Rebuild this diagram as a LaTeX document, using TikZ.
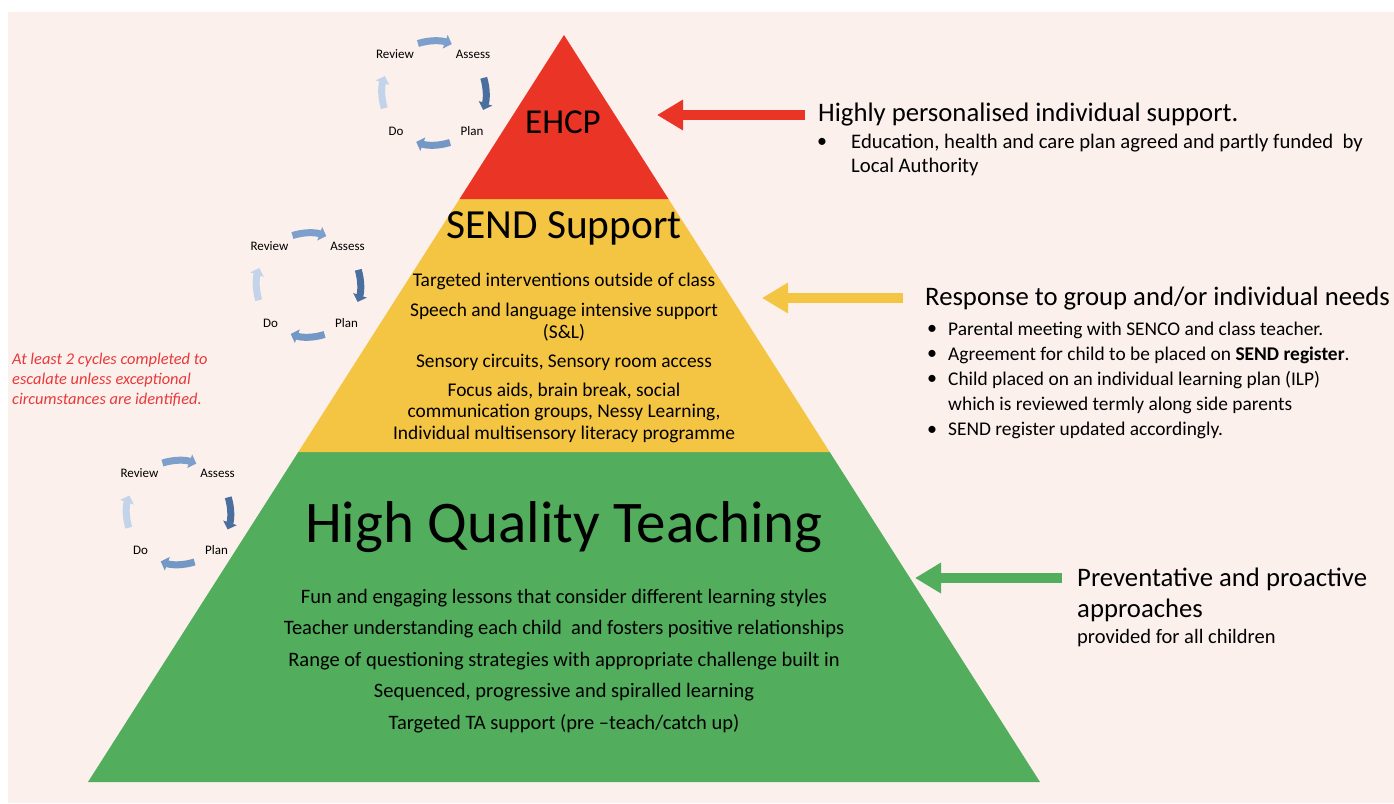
\documentclass[tikz,border=0pt]{standalone}
\usepackage{fontspec}
\setmainfont{Carlito}
\usetikzlibrary{arrows.meta}

\definecolor{bgpink}{HTML}{FBF0EC}
\definecolor{ehcpred}{HTML}{EA3526}
\definecolor{sendyellow}{HTML}{F4C443}
\definecolor{hqtgreen}{HTML}{52AD5C}
\definecolor{cyctop}{HTML}{7C9FCC}
\definecolor{cycright}{HTML}{4A6E9E}
\definecolor{cycbot}{HTML}{7398C6}
\definecolor{cycleft}{HTML}{C3D4EA}
\definecolor{notered}{HTML}{E8393A}

\begin{document}
\begin{tikzpicture}[x=1pt,y=-1pt]
\tikzstyle{tiertitle} = [inner sep=0pt, text=black]
\tikzstyle{bodytxt} = [inner sep=0pt, align=center, font=\fontsize{19.4}{22}\selectfont]
\tikzstyle{heading} = [inner sep=0pt, anchor=west, align=left, font=\fontsize{26.7}{31}\selectfont]
\tikzstyle{bullet} = [inner sep=0pt, font=\fontsize{20}{22}\selectfont]
\tikzstyle{cyclab} = [inner sep=0pt, font=\fontsize{13}{15}\selectfont]
\tikzstyle{cycarr} = [line width=7pt, -{Triangle[length=7pt,width=14pt]}]
\tikzstyle{bigarr} = [line width=10pt, -{Triangle[length=26pt,width=29pt]}]

\useasboundingbox (0,0) rectangle (1394,803);
\fill[bgpink] (8,12) rectangle (1394,803);

\coordinate (apex) at (564,35);
\coordinate (redl) at (459.5,199);
\coordinate (redr) at (668.5,199);
\coordinate (yell) at (298.3,452);
\coordinate (yelr) at (829.7,452);
\coordinate (grnl) at (88,782);
\coordinate (grnr) at (1040,782);

\fill[hqtgreen] (yell) -- (yelr) -- (grnr) -- (grnl) -- cycle;
\fill[sendyellow] (redl) -- (redr) -- (yelr) -- (yell) -- cycle;
\fill[ehcpred] (apex) -- (redr) -- (redl) -- cycle;

\node[tiertitle, font=\fontsize{35}{38}\selectfont] (ehcp) at (563,122) {EHCP};
\node[tiertitle, font=\fontsize{41.4}{44}\selectfont] (send) at (564,228) {SEND Support};
\node[tiertitle, font=\fontsize{59}{62}\selectfont] (hqt) at (564,527) {High Quality Teaching};

\node[bodytxt] (send1) at (564,281) {Targeted interventions outside of class};
\node[bodytxt] (send2) at (564,322) {Speech and language intensive support\\(S\&L)};
\node[bodytxt] (send3) at (564,362) {Sensory circuits, Sensory room access};
\node[bodytxt, font=\fontsize{19.4}{21.5}\selectfont] (send4) at (564,412.5)
  {Focus aids, brain break, social\\communication groups, Nessy Learning,\\Individual multisensory literacy programme};

\node[bodytxt, font=\fontsize{20.5}{31.5}\selectfont] (hqtlist) at (564,661)
  {Fun and engaging lessons that consider different learning styles\\
   Teacher understanding each child\ \ and fosters positive relationships\\
   Range of questioning strategies with appropriate challenge built in\\
   Sequenced, progressive and spiralled learning\\
   Targeted TA support (pre --teach/catch up)};

\node[heading] (ehcpnote) at (818,115) {Highly personalised individual support.};
\node[bullet] (ehcpdot) at (822,143) {•};
\node[bullet, anchor=west, align=left, font=\fontsize{20.7}{24}\selectfont] (ehcptxt) at (851,155)
  {Education, health and care plan agreed and partly funded\ \ by\\Local Authority};

\node[heading] (sendnote) at (925,299) {Response to group and/or individual needs};
\foreach \y/\n in {330/1, 355/2, 380/3, 431/4}
  \node[bullet] (senddot\n) at (932,\y) {•};
\node[bullet, anchor=west, align=left, font=\fontsize{19.4}{25.2}\selectfont] (sendtxt) at (948,380.5)
  {Parental meeting with SENCO and class teacher.\\
   Agreement for child to be placed on \textbf{SEND register}.\\
   Child placed on an individual learning plan (ILP)\\
   which is reviewed termly along side parents\\
   SEND register updated accordingly.};

\node[heading] (hqtnote) at (1077,594.5) {Preventative and proactive\\approaches};
\node[bullet, anchor=west, font=\fontsize{20.5}{22}\selectfont] (hqtsub) at (1077,638) {provided for all children};

\node[inner sep=0pt, anchor=west, align=left, text=notered, font=\itshape\fontsize{16.4}{20}\selectfont] (cyclenote) at (12,380)
  {At least 2 cycles completed to\\escalate unless exceptional\\circumstances are identified.};

\coordinate (ehcptip) at (657,115);
\coordinate (sendtip) at (762,298);
\coordinate (hqttip) at (915,578);
\draw[bigarr, ehcpred] (ehcpnote.west) ++(-13,0) -- (ehcptip);
\draw[bigarr, sendyellow] (sendnote.west |- sendtip) ++(-22,0) -- (sendtip);
\draw[bigarr, hqtgreen] (hqtnote.west |- hqttip) ++(-15,0) -- (hqttip);

\foreach \cx/\cy/\k in {434/93/a, 308.5/285/b, 178.5/512.5/c} {
  \coordinate (cyc\k) at (\cx,\cy);
  \node[cyclab] (rev\k) at ({\cx-39},{\cy-39}) {Review};
  \node[cyclab] (ass\k) at ({\cx+39},{\cy-39}) {Assess};
  \node[cyclab] (plan\k) at ({\cx+38},{\cy+38}) {Plan};
  \node[cyclab] (do\k) at ({\cx-38},{\cy+38}) {Do};
  \draw[cycarr, cyctop] (cyc\k) ++(-108:52) arc[start angle=-108, end angle=-70, radius=52];
  \draw[cycarr, cycright] (cyc\k) ++(-17:52) arc[start angle=-17, end angle=19, radius=52];
  \draw[cycarr, cycbot] (cyc\k) ++(72:52) arc[start angle=72, end angle=110, radius=52];
  \draw[cycarr, cycleft] (cyc\k) ++(163:52) arc[start angle=163, end angle=199, radius=52];
}
\end{tikzpicture}
\end{document}
